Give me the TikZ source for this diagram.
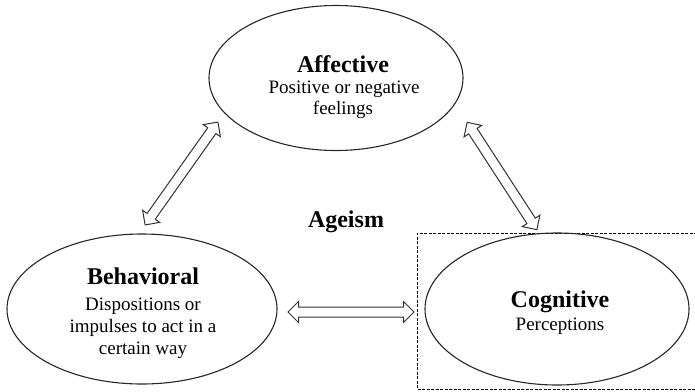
\documentclass[tikz,border=0pt]{standalone}
\usepackage{fontspec}
\setmainfont{Liberation Serif}
\usetikzlibrary{shapes.arrows,shapes.geometric,calc}
\begin{document}
\begin{tikzpicture}[x=1pt,y=-1pt,
  oval/.style={draw=black!85,line width=1.1pt,ellipse,inner sep=0pt},
  darrow/.style={draw=black!80,line width=1pt,double arrow,fill=white,inner xsep=0pt,inner ysep=4.5pt,
     double arrow head extend=5.5pt,double arrow head indent=0pt},
  ttl/.style={font=\fontsize{24}{26}\selectfont\bfseries,anchor=base,inner sep=0pt},
  sub/.style={font=\fontsize{19}{22}\selectfont,anchor=base,inner sep=0pt}]
\useasboundingbox (0,0) rectangle (695,391);
% dashed frame
\draw[dashed,dash pattern=on 3pt off 1.5pt,line width=1pt] (697,233) -- (417,233) -- (417,389) -- (697,389);
\node[oval,minimum width=254pt,minimum height=145pt] (aff) at (336,78) {};
\node[oval,minimum width=270pt,minimum height=150pt] (beh) at (142,309) {};
\node[oval,minimum width=264pt,minimum height=152pt] (cog) at (557,309) {};
\node[ttl] (affT) at (343,72) {Affective};
\node[sub] (affS1) at (344,93) {Positive or negative};
\node[sub] (affS2) at (343,114) {feelings};
\node[ttl] (behT) at (143,284) {Behavioral};
\node[sub] (behS1) at (143,310) {Dispositions or};
\node[sub] (behS2) at (143,332) {impulses to act in a};
\node[sub] (behS3) at (143,354) {certain way};
\node[ttl] (cogT) at (560,307) {Cognitive};
\node[sub] (cogS) at (560,330) {Perceptions};
\node[ttl] (age) at (346,227) {Ageism};
% arrow end points
\coordinate (l1) at (145,225); \coordinate (l2) at (218,122);
\coordinate (r1) at (467,122); \coordinate (r2) at (537,230);
\coordinate (h1) at (288,312); \coordinate (h2) at (414,312);
\node[darrow,minimum height=126pt,rotate=54.7] (aL) at ($(l1)!0.5!(l2)$) {};
\node[darrow,minimum height=128pt,rotate=-57] (aR) at ($(r1)!0.5!(r2)$) {};
\node[darrow,minimum height=126pt] (aH) at ($(h1)!0.5!(h2)$) {};
\end{tikzpicture}
\end{document}
